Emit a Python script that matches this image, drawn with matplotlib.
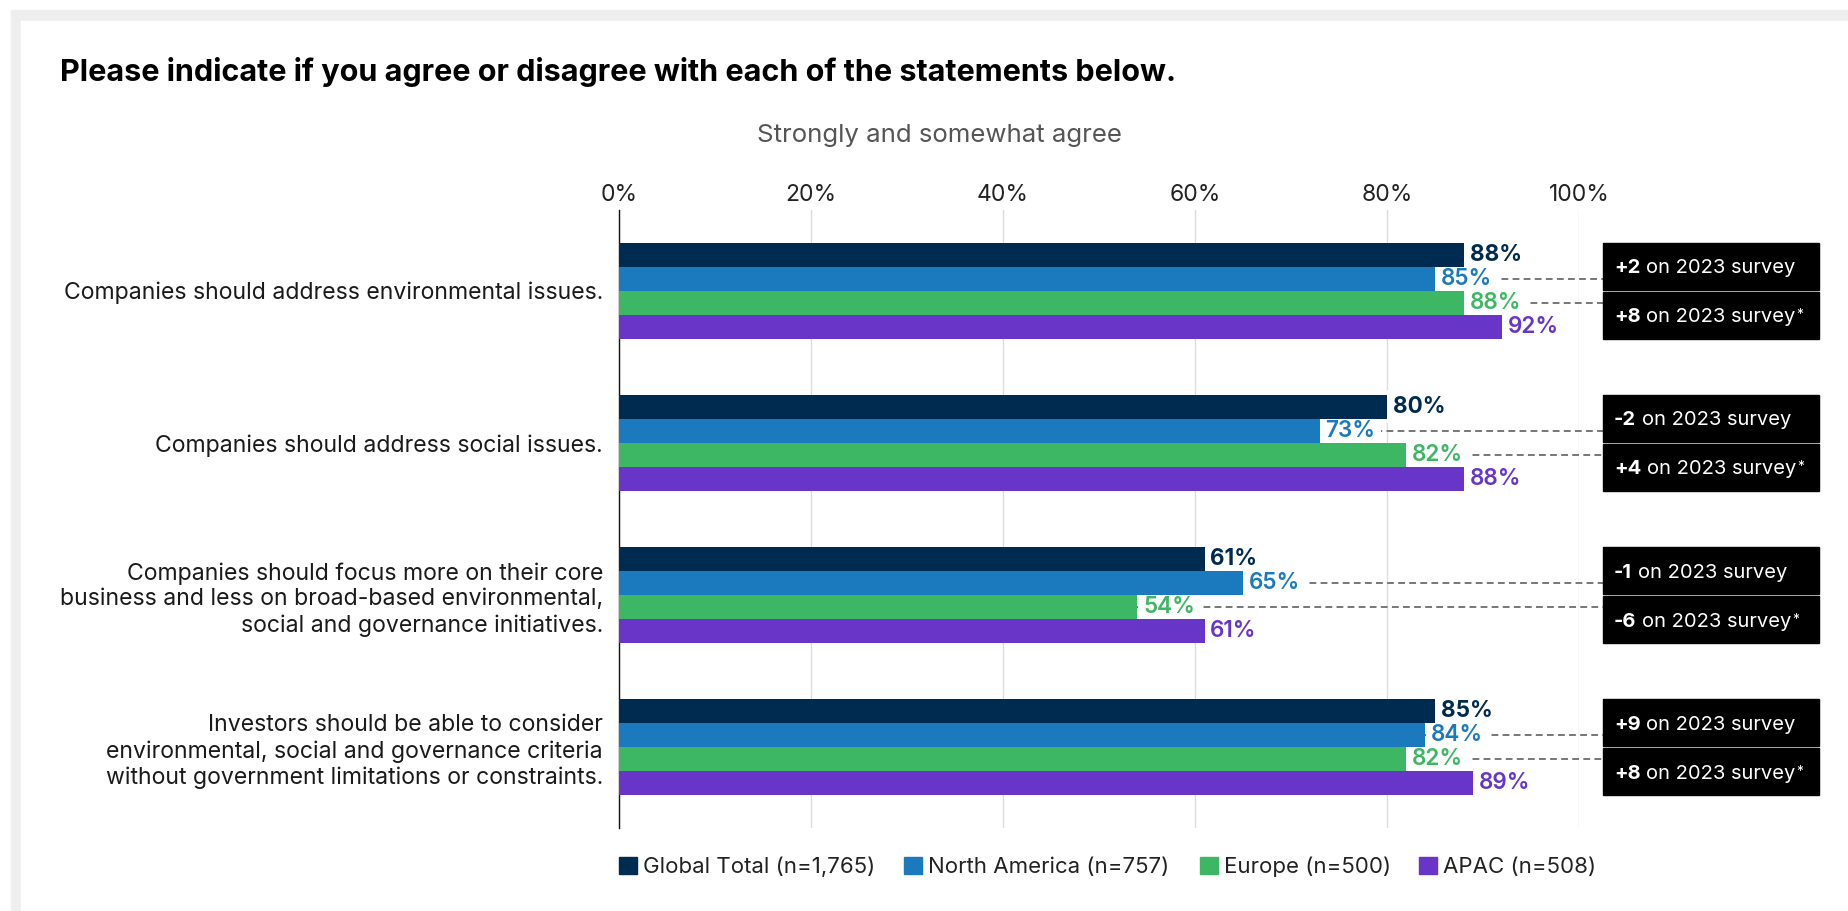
import numpy as np
import matplotlib.pyplot as plt
from matplotlib.patches import Rectangle

plt.rcParams['font.family'] = ['Inter', 'DejaVu Sans']

# survey results, share that strongly or somewhat agree (%)
statements = [
    "Companies should address environmental issues.",
    "Companies should address social issues.",
    "Companies should focus more on their core\nbusiness and less on broad-based environmental,\nsocial and governance initiatives.",
    "Investors should be able to consider\nenvironmental, social and governance criteria\nwithout government limitations or constraints.",
]
regions = ["Global Total (n=1,765)", "North America (n=757)", "Europe (n=500)", "APAC (n=508)"]
global_total = [88, 80, 61, 85]
north_america = [85, 73, 65, 84]
europe = [88, 82, 54, 82]
apac = [92, 88, 61, 89]
# change versus the 2023 survey (North America, Europe)
na_change = ["+2", "-2", "-1", "+9"]
eu_change = ["+8", "+4", "-6", "+8"]

colors = ["#002b50", "#1b79be", "#3db763", "#6735c8"]
series = [global_total, north_america, europe, apac]

W, H = 1848, 911
fig = plt.figure(figsize=(W / 100, H / 100), dpi=100)

# background layer in pixel units for the frame, title and legend
bg = fig.add_axes([0, 0, 1, 1], zorder=-1)
bg.set_xlim(0, W)
bg.set_ylim(H, 0)
bg.axis("off")
bg.add_patch(Rectangle((11, 10), W, H, color="#eeeeee"))
bg.add_patch(Rectangle((21, 21), W, H, color="white"))

bg.text(60, 81, "Please indicate if you agree or disagree with each of the statements below.",
        fontsize=22, fontweight="bold", color="black", va="baseline")
bg.text(757, 142, "Strongly and somewhat agree", fontsize=18.6, color="#555555", va="baseline")

legend_x = [619, 904, 1200, 1419]
for lx, name, c in zip(legend_x, regions, colors):
    bg.add_patch(Rectangle((lx, 857), 18, 17, color=c))
    bg.text(lx + 24, 873, name, fontsize=16, color="#222222", va="baseline")

ax = fig.add_axes([619 / W, 1 - 828 / H, 960 / W, 618 / H])
ax.patch.set_visible(False)

y = np.arange(len(statements))
bh = 24 / 152
offsets = (np.arange(4) - 1.5) * bh

for j, (vals, c) in enumerate(zip(series, colors)):
    ax.barh(y + offsets[j], vals, height=bh, color=c, zorder=3)
    for yy, v in zip(y + offsets[j], vals):
        ax.text(v + 0.6, yy, f"{v}%", va="center", ha="left", color=c,
                fontsize=16.2, fontweight="bold" if j == 0 else "semibold", zorder=2,
                bbox=dict(boxstyle="square,pad=0.25", fc="white", ec="none"))

# dashed leaders and change boxes
box_x0, box_x1 = 102.5, 125.0
gap = 1 / 152
for i in range(len(statements)):
    for vals, change, row, star in [(north_america, na_change, 1, False),
                                     (europe, eu_change, 2, True)]:
        yy = y[i] + offsets[row]
        ax.plot([vals[i], box_x0], [yy, yy], color="#777777", lw=1.4,
                dashes=(3.5, 2.2), zorder=1, clip_on=False)
        if row == 1:
            y0, y1 = y[i] - 2 * bh, y[i] - gap
        else:
            y0, y1 = y[i] + gap, y[i] + 2 * bh
        ax.add_patch(Rectangle((box_x0, y0), box_x1 - box_x0, y1 - y0,
                               color="black", clip_on=False, zorder=4))
        bold = ax.text(103.65, (y0 + y1) / 2, change[i], color="white", fontsize=14.5,
                       fontweight="bold", va="center_baseline", ha="left", zorder=5)
        rest = ax.annotate("on 2023 survey", xy=(1, 0), xycoords=bold, xytext=(4, 0),
                           textcoords="offset points", color="white", fontsize=14.5,
                           va="bottom", ha="left", zorder=5)
        if star:
            ax.annotate("*", xy=(1, 1), xycoords=rest, xytext=(0.5, 0),
                        textcoords="offset points", color="white", fontsize=10,
                        va="top", ha="left", zorder=5)

ax.set_xlim(0, 100)
ax.set_ylim(3.53, -0.53)
ax.set_xticks(range(0, 101, 20))
ax.set_xticklabels([f"{t}%" for t in range(0, 101, 20)])
ax.xaxis.tick_top()
ax.set_yticks(y)
ax.set_yticklabels(statements)
for lbl in ax.get_yticklabels():
    lbl.set_linespacing(1.22)
ax.tick_params(axis="x", length=0, pad=3, labelsize=16.5, labelcolor="#222222")
ax.tick_params(axis="y", length=0, pad=11.5, labelsize=16.6, labelcolor="#1a1a1a")
ax.grid(axis="x", color="#dddddd", lw=1, zorder=0)
ax.set_axisbelow(True)
for side in ["top", "right", "bottom"]:
    ax.spines[side].set_visible(False)
ax.spines["left"].set_color("#111111")
ax.spines["left"].set_linewidth(1)

fig.savefig("out.png", dpi=100)
